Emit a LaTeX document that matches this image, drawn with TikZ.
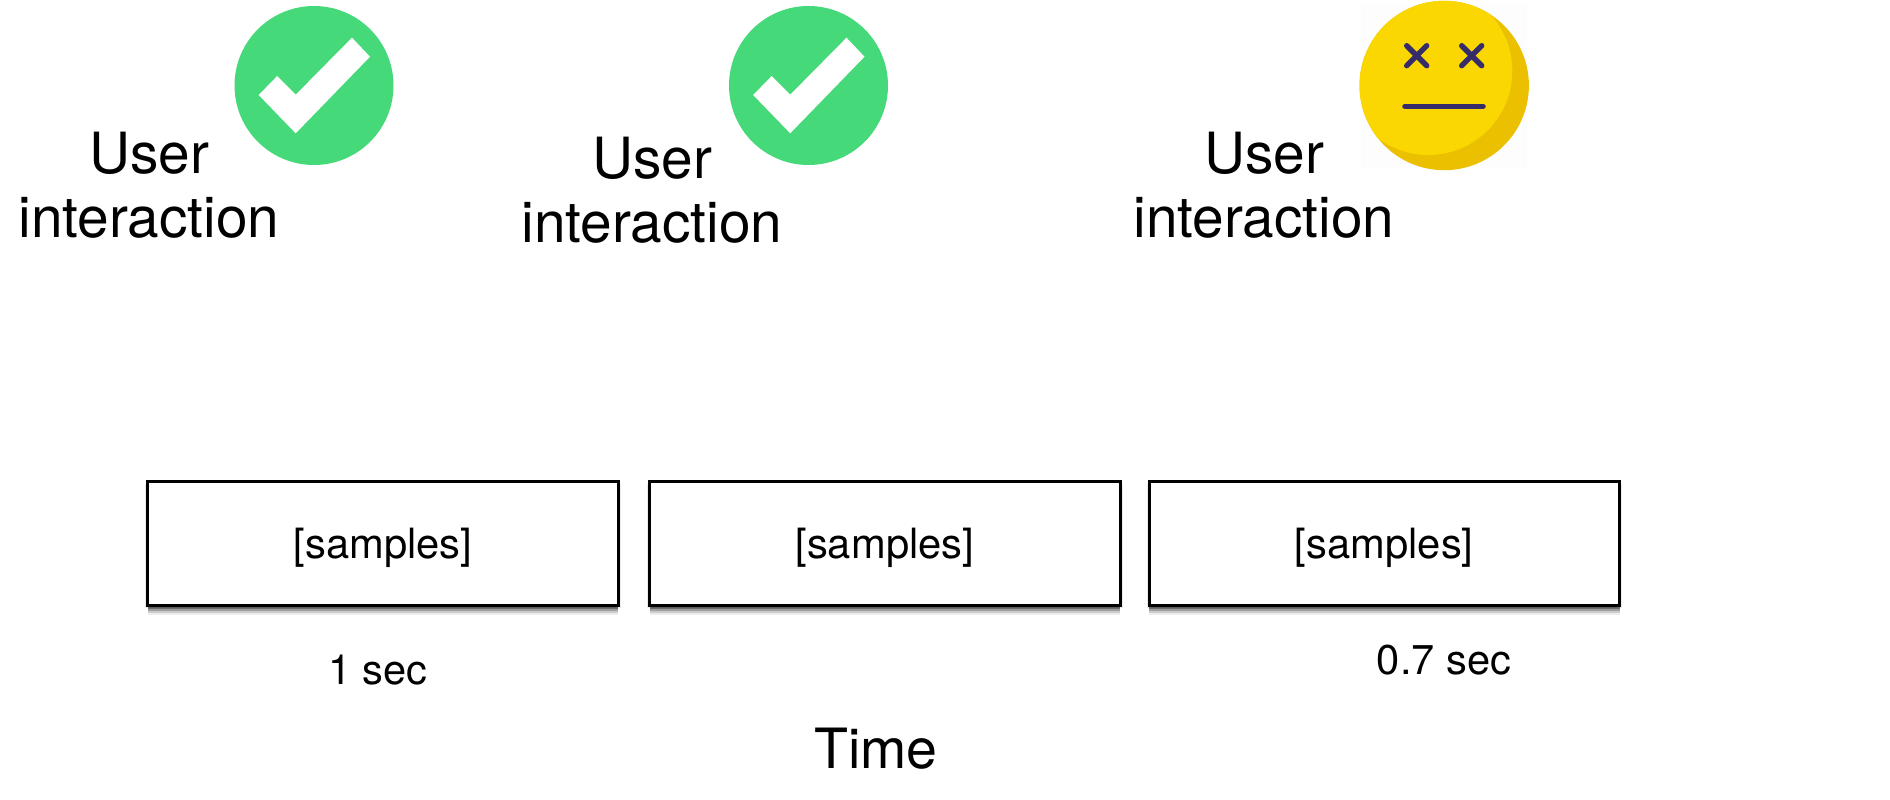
\documentclass[tikz,border=0pt]{standalone}
\usepackage{fontspec}
\setmainfont{TeX Gyre Heros}
\usetikzlibrary{shadows}
\definecolor{okgreen}{HTML}{46D97A}
\definecolor{faceyellow}{HTML}{FAD700}
\definecolor{faceshade}{HTML}{EBC000}
\definecolor{faceink}{HTML}{372C6A}
\tikzset{
  x=1pt,y=-1pt,
  sampleshadow/.style={
    general shadow={shadow yshift=-9pt,fill=black,opacity=.07},
    general shadow={shadow yshift=-7pt,fill=black,opacity=.14},
    general shadow={shadow yshift=-5pt,fill=black,opacity=.22},
    general shadow={shadow yshift=-3pt,fill=black,opacity=.32},
    general shadow={shadow yshift=-2pt,shadow xshift=2.5pt,fill=black,opacity=.08},
    general shadow={shadow yshift=-2pt,shadow xshift=-2.5pt,fill=black,opacity=.08},
    general shadow={shadow yshift=-1pt,shadow xshift=1.2pt,fill=black,opacity=.15},
    general shadow={shadow yshift=-1pt,shadow xshift=-1.2pt,fill=black,opacity=.15}},
  samplebox/.style={draw=black,fill=white,line width=3pt,rectangle,
    minimum width=470.5pt,minimum height=124pt,inner sep=0pt,
    text height=30.4pt,text depth=0pt,font=\fontsize{41.7}{48}\selectfont,sampleshadow},
  userlabel/.style={align=center,inner sep=0pt,font=\fontsize{56.8}{64}\selectfont},
  seclabel/.style={anchor=base,inner sep=0pt,font=\fontsize{41.6}{48}\selectfont},
  okdisc/.style={circle,fill=okgreen,minimum size=159pt,inner sep=0pt},
  okicon/.pic={
    \fill[white] (38,-47.8) -- (56,-28.8) -- (-18.3,47.8) -- (-55.3,9.5)
      -- (-36.8,-9.5) -- (-18.3,9.2) -- cycle;
  },
}
\begin{document}
\begin{tikzpicture}
\useasboundingbox (0,0) rectangle (1890,800);
% check marks
\node[okdisc] (ok1) at (314,85.5) {};
\pic at (ok1.center) {okicon};
\node[okdisc] (ok2) at (808.5,85.5) {};
\pic at (ok2.center) {okicon};
% face
\fill[fill=black!0.6] (1361,5) rectangle (1527,168);
\node[circle,fill=faceshade,minimum size=169.4pt,inner sep=0pt] (face) at (1444.2,85.5) {};
\begin{scope}
  \clip (1444.2,85.5) circle (84.7);
  \fill[faceyellow] (1428.3,71) circle (84);
\end{scope}
\coordinate (eyeL) at (1416.7,55.7);
\coordinate (eyeR) at (1471.7,55.7);
\draw[faceink,line width=5.4pt,line cap=round] (eyeL)+(-10,-10) -- +(10,10) (eyeL)+(-10,10) -- +(10,-10);
\draw[faceink,line width=5.4pt,line cap=round] (eyeR)+(-10,-10) -- +(10,10) (eyeR)+(-10,10) -- +(10,-10);
\coordinate (mouthL) at (1405,106.3);
\coordinate (mouthR) at (1483,106.3);
\draw[faceink,line width=5.6pt,line cap=round] (mouthL) -- (mouthR);
% labels
\node[userlabel] (u1) at (149,185.5) {User\\interaction};
\node[userlabel] (u2) at (652,190) {User\\interaction};
\node[userlabel] (u3) at (1264,185.5) {User\\interaction};
% boxes
\node[samplebox] (b1) at (383,543.5) {[samples]};
\node[samplebox] (b2) at (884.75,543.5) {[samples]};
\node[samplebox] (b3) at (1384.25,543.5) {[samples]};
% cover under third box
\fill[white] (1359,617) rectangle (1529,690);
\node[seclabel] (s1) at (378,684) {1 sec};
\node[seclabel] (s3) at (1444,674) {0.7 sec};
\node[anchor=base,inner sep=0pt,font=\fontsize{55.5}{64}\selectfont] (time) at (876,768.5) {Time};
\end{tikzpicture}
\end{document}
